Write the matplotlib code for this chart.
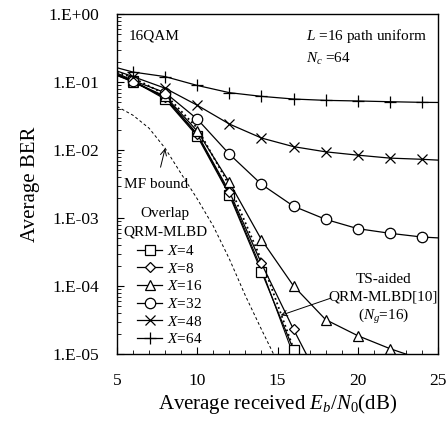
import numpy as np
import matplotlib
matplotlib.use("Agg")
import matplotlib.pyplot as plt
from matplotlib.ticker import FixedLocator, NullFormatter, LogLocator

plt.rcParams['font.family'] = ['Liberation Serif', 'DejaVu Serif']
plt.rcParams['mathtext.fontset'] = 'custom'
plt.rcParams['mathtext.rm'] = 'Liberation Serif'
plt.rcParams['mathtext.it'] = 'Liberation Serif:italic'

# Eb/N0 grid (dB); first and last points are line ends without markers
ebn0 = [5, 6, 8, 10, 12, 14, 16, 18, 20, 22, 24, 25]

ber_x64 = [0.162, 0.140, 0.120, 0.089, 0.0697, 0.0615, 0.0562, 0.0537, 0.0526, 0.0513, 0.0502, 0.0500]
ber_x48 = [0.145, 0.120, 0.081, 0.0455, 0.0241, 0.0150, 0.0112, 0.0094, 0.0084, 0.0076, 0.0073, 0.0071]
ber_x32 = [0.135, 0.105, 0.0697, 0.0285, 0.00870, 0.00313, 0.00149, 0.000955, 0.000697, 0.000596, 0.000525, 0.000510]
ber_x16 = [0.130, 0.100, 0.062, 0.019, 0.00335, 0.00048, 0.000100, 3.2e-5, 1.86e-5, 1.2e-5, 8.3e-6, 7.5e-6]
ber_x8 = [0.125, 0.100, 0.060, 0.0172, 0.00244, 0.000215, 2.3e-5, 2.8e-6]
ber_x4 = [0.125, 0.103, 0.056, 0.0160, 0.00218, 0.000163, 1.15e-5]

# TS-aided QRM-MLBD[10] (Ng=16) and dotted curve, no markers
ebn0_ts = [5, 6, 8, 10, 12, 14, 16]
ber_ts = [0.128, 0.105, 0.058, 0.0168, 0.00230, 0.000180, 9.5e-6]
ber_dot = [0.140, 0.115, 0.066, 0.0210, 0.00300, 0.000240, 1.2e-5]

# MF bound
ebn0_mf = [5, 6, 7, 8, 9, 10, 11, 12, 13, 14, 15]
ber_mf = [0.0437, 0.0324, 0.0209, 0.0106, 0.00447, 0.00191, 7.6e-4, 2.5e-4, 7.2e-5, 2.3e-5, 7.6e-6]

series = [
    (ber_x4, 's', '$X$=4'),
    (ber_x8, 'D', '$X$=8'),
    (ber_x16, '^', '$X$=16'),
    (ber_x32, 'o', '$X$=32'),
    (ber_x48, 'x', '$X$=48'),
    (ber_x64, '+', '$X$=64'),
]
msizes = {'s': 6.5, 'D': 5.2, '^': 7.5, 'o': 7.5, 'x': 7.5, '+': 9}

fig = plt.figure(figsize=(4.46, 4.23), dpi=100)
ax = fig.add_axes([117 / 446, 1 - 354 / 423, 321 / 446, 340 / 423])

ax.plot(ebn0_mf, ber_mf, '--', color='black', lw=0.7, dashes=(3, 2.5))
ax.plot(ebn0_ts, ber_dot, ':', color='black', lw=1.3)
ax.plot(ebn0_ts, ber_ts, '-', color='black', lw=0.8)

handles = []
for vals, m, lab in series:
    n = len(vals)
    x = ebn0[:n]
    marks = [i for i in range(n) if x[i] not in (5, 25)]
    h, = ax.plot(x, vals, '-', color='black', lw=0.9, marker=m, markevery=marks,
                 ms=msizes[m], mfc='white', mec='black', mew=0.9, label=lab)
    handles.append(h)

ax.set_yscale('log')
ax.set_xlim(5, 25)
ax.set_ylim(1e-5, 1)

ax.yaxis.set_major_locator(LogLocator(base=10, numticks=10))
ax.yaxis.set_minor_locator(LogLocator(base=10, subs=np.arange(2, 10), numticks=10))
ax.yaxis.set_minor_formatter(NullFormatter())
ax.set_yticks([1e-5, 1e-4, 1e-3, 1e-2, 1e-1, 1])
ax.set_yticklabels(['1.E-05', '1.E-04', '1.E-03', '1.E-02', '1.E-01', '1.E+00'])
ax.set_xticks([5, 10, 15, 20, 25])
ax.xaxis.set_minor_locator(FixedLocator(np.arange(5, 26, 1)))

ax.tick_params(axis='y', which='major', direction='in', length=5, width=0.8,
               labelsize=12.5, pad=13, right=False)
ax.tick_params(axis='y', which='minor', direction='in', length=3, width=0.6, right=False)
ax.tick_params(axis='x', which='major', direction='in', length=5, width=0.8,
               labelsize=12.5, pad=14, top=False)
ax.tick_params(axis='x', which='minor', direction='in', length=3, width=0.6, top=False)
for s in ax.spines.values():
    s.set_linewidth(1.0)

ax.set_ylabel('Average BER', fontsize=15, labelpad=6)
ax.set_xlabel('Average received $E_b/N_0$(dB)', fontsize=15, labelpad=2)

ax.text(5.7, 0.48, '16QAM', fontsize=11, va='center', ha='left')
ax.text(16.8, 0.48, '$L$ =16 path uniform', fontsize=11, va='center', ha='left')
ax.text(16.8, 0.215, '$N_c$ =64', fontsize=11, va='center', ha='left')

ax.annotate('MF bound', xy=(8.0, 0.0106), xytext=(7.45, 3.1e-3),
            fontsize=11, ha='center', va='center',
            arrowprops=dict(arrowstyle='->', color='black', lw=0.7,
                            shrinkA=6, shrinkB=0))

ax.annotate('', xy=(15.2, 3.7e-5), xytext=(18.3, 6.6e-5),
            arrowprops=dict(arrowstyle='->', color='black', lw=0.7,
                            shrinkA=0, shrinkB=0))
ax.text(21.6, 1.25e-4, 'TS-aided', fontsize=11, ha='center', va='center')
ax.text(21.6, 6.9e-5, 'QRM-MLBD[10]', fontsize=11, ha='center', va='center')
ax.text(21.6, 3.6e-5, '($N_g$=16)', fontsize=11, ha='center', va='center')

# legend header
ax.text(8.0, 10 ** (-(213 - 14) / 68), 'Overlap', fontsize=11, ha='center', va='center')
ax.text(8.0, 10 ** (-(231.5 - 14) / 68), 'QRM-MLBD', fontsize=11, ha='center', va='center')

leg = ax.legend(handles=handles, loc='upper left',
                bbox_to_anchor=(0.03, 0.355), frameon=False, fontsize=11,
                handlelength=1.6, handletextpad=0.35,
                labelspacing=0.24, borderpad=0.2)

fig.savefig('out.png', dpi=100)
